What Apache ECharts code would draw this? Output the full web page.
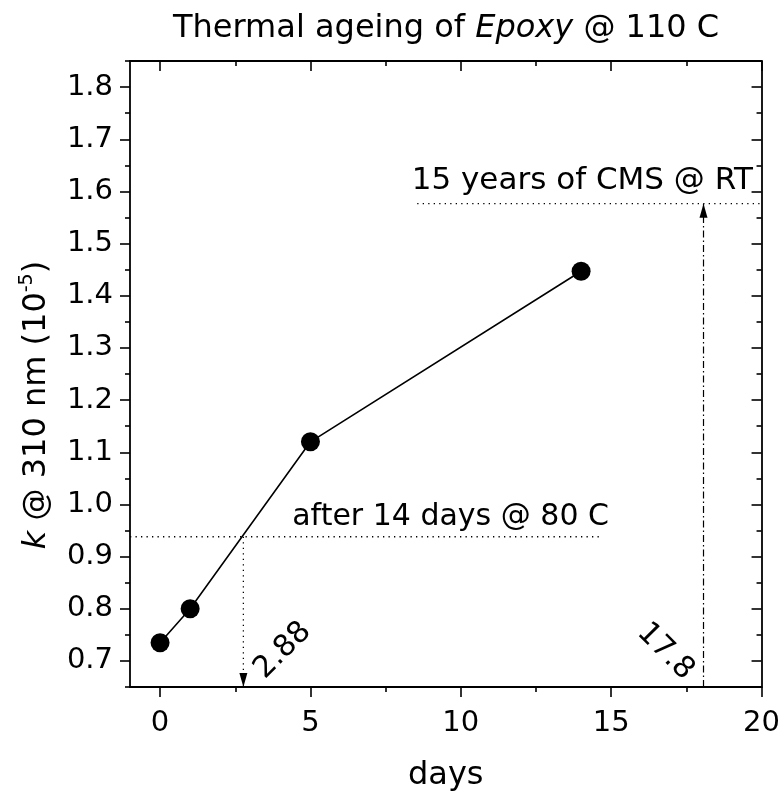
<!DOCTYPE html>
<html><head><meta charset="utf-8">
<script src="https://cdn.jsdelivr.net/npm/echarts@6/dist/echarts.min.js"></script>
<style>html,body{margin:0;padding:0;background:#fff}#c{width:783px;height:797px}</style>
</head><body><div id="c"></div>
<script>
// ---- data ----
const days = [0, 1, 5, 14];
const kValues = [0.735, 0.80, 1.12, 1.447];

const xMajorTicks = [0, 5, 10, 15, 20];
const xMinorTicks = [2.5, 7.5, 12.5, 17.5];
const yMajorTicks = [0.7, 0.8, 0.9, 1.0, 1.1, 1.2, 1.3, 1.4, 1.5, 1.6, 1.7, 1.8];
const yMinorTicks = [0.65, 0.75, 0.85, 0.95, 1.05, 1.15, 1.25, 1.35, 1.45, 1.55, 1.65, 1.75, 1.85];

// reference lines
const ref80X = [-1, 14.65];
const ref80Y = [0.938, 0.938];
const drop80X = [2.77, 2.77];
const drop80Y = [0.938, 0.65];
const refRTX = [8.55, 20];
const refRTY = [1.5765, 1.5765];
const riseRTX = [18.07, 18.07];
const riseRTY = [0.65, 1.5765];

// annotations
const annTexts = ['after 14 days @ 80 C', '15 years of CMS @ RT', '2.88', '17.8'];
const annX = [9.66, 14.04, 4.08, 16.8];
const annY = [0.976, 1.62, 0.72, 0.718];
const annRot = [0, 0, 45, -45];
const annSize = [30, 31, 30, 30];

// ---- chart ----
const FONT = 'DejaVu Sans';
const BLACK = '#000';
const pairs = (xs, ys) => xs.map((x, i) => [x, ys[i]]);

const X_MIN = -1, X_MAX = 20, Y_MIN = 0.65, Y_MAX = 1.85;

function xAx(pos, values, len, inside, showLabel, showLine, extra) {
  return Object.assign({
    type: 'value', position: pos, min: X_MIN, max: X_MAX,
    axisLine: { show: showLine, onZero: false, lineStyle: { color: BLACK, width: 1.8 } },
    axisTick: { show: true, customValues: values, length: len, inside: inside, lineStyle: { color: BLACK, width: 1.6 } },
    axisLabel: showLabel ? { show: true, customValues: values, color: BLACK, fontFamily: FONT, fontSize: 29, margin: 22 } : { show: false },
    splitLine: { show: false }
  }, extra || {});
}
function yAx(pos, values, len, inside, showLabel, showLine, extra) {
  return Object.assign({
    type: 'value', position: pos, min: Y_MIN, max: Y_MAX,
    axisLine: { show: showLine, onZero: false, lineStyle: { color: BLACK, width: 1.8 } },
    axisTick: { show: true, customValues: values, length: len, inside: inside, lineStyle: { color: BLACK, width: 1.6 } },
    axisLabel: showLabel ? { show: true, customValues: values, color: BLACK, fontFamily: FONT, fontSize: 29, margin: 17,
      formatter: v => Number(v).toFixed(1) } : { show: false },
    splitLine: { show: false }
  }, extra || {});
}

const chart = echarts.init(document.getElementById('c'), null, { renderer: 'canvas' });
chart.setOption({
  animation: false,
  backgroundColor: '#fff',
  title: {
    text: 'Thermal ageing of {i|Epoxy} @ 110 C',
    left: 173, top: 13,
    padding: 0,
    textStyle: {
      color: BLACK, fontFamily: FONT, fontSize: 32, fontWeight: 'normal',
      rich: { i: { fontStyle: 'italic', fontFamily: FONT, fontSize: 32, color: BLACK } }
    }
  },
  grid: { left: 130, right: 19, top: 61, bottom: 102, containLabel: false },
  xAxis: [
    xAx('bottom', xMajorTicks, 10, false, true, true, {
      name: 'days', nameLocation: 'middle', nameGap: 73,
      nameTextStyle: { color: BLACK, fontFamily: FONT, fontSize: 32 }
    }),
    xAx('bottom', xMinorTicks, 5, false, false, false),
    xAx('top', xMajorTicks, 10, true, false, true),
    xAx('top', xMinorTicks, 5, true, false, false)
  ],
  yAxis: [
    yAx('left', yMajorTicks, 10, false, true, true, {
      name: '{i|k} @ 310 nm (10{s|-5})', nameLocation: 'middle', nameRotate: 90, nameGap: 73,
      nameTextStyle: {
        color: BLACK, fontFamily: FONT, fontSize: 32, lineHeight: 38, padding: [0, 62, 0, 0],
        rich: {
          i: { fontStyle: 'italic', fontFamily: FONT, fontSize: 32, color: BLACK, lineHeight: 38 },
          s: { fontFamily: FONT, fontSize: 19, color: BLACK, lineHeight: 19, verticalAlign: 'top' }
        }
      }
    }),
    yAx('left', yMinorTicks, 5, false, false, false),
    yAx('right', yMajorTicks, 10, true, false, true),
    yAx('right', yMinorTicks, 5, true, false, false)
  ],
  series: [
    {
      name: 'k', type: 'line', data: pairs(days, kValues),
      symbol: 'circle', symbolSize: 19,
      itemStyle: { color: BLACK, opacity: 1 },
      lineStyle: { color: BLACK, width: 1.6 },
      z: 5
    },
    {
      name: 'ref80', type: 'line', data: pairs(ref80X, ref80Y), symbol: 'none', silent: true,
      lineStyle: { color: BLACK, width: 1.3, type: [1.3, 4.2] }
    },
    {
      name: 'drop80', type: 'line', data: pairs(drop80X, drop80Y), symbol: 'none', silent: true,
      lineStyle: { color: BLACK, width: 1.3, type: [1.3, 4.2] }
    },
    {
      name: 'refRT', type: 'line', data: pairs(refRTX, refRTY), symbol: 'none', silent: true,
      lineStyle: { color: BLACK, width: 1.3, type: [1.3, 4.2] }
    },
    {
      name: 'riseRT', type: 'line', data: pairs(riseRTX, riseRTY), symbol: 'none', silent: true,
      lineStyle: { color: BLACK, width: 1.2, type: [7, 3, 1.5, 3] }
    },
    {
      name: 'arrowDown', type: 'scatter', clip: false, silent: true,
      data: [[drop80X[1], drop80Y[1]]],
      symbol: 'triangle', symbolRotate: 180, symbolSize: [8, 14], symbolOffset: [0, -7],
      itemStyle: { color: BLACK, opacity: 1 }
    },
    {
      name: 'arrowUp', type: 'scatter', clip: false, silent: true,
      data: [[riseRTX[1], riseRTY[1]]],
      symbol: 'triangle', symbolRotate: 0, symbolSize: [8, 14], symbolOffset: [0, 7],
      itemStyle: { color: BLACK, opacity: 1 }
    },
    {
      name: 'annotations', type: 'scatter', clip: false, silent: true, symbolSize: 0,
      itemStyle: { color: BLACK, opacity: 1 },
      data: annTexts.map((t, i) => ({
        value: [annX[i], annY[i]],
        label: {
          show: true, position: 'inside', formatter: t, rotate: annRot[i],
          color: BLACK, opacity: 1, textBorderWidth: 0,
          fontFamily: FONT, fontSize: annSize[i], align: 'center', verticalAlign: 'middle'
        }
      }))
    }
  ]
});
</script></body></html>
